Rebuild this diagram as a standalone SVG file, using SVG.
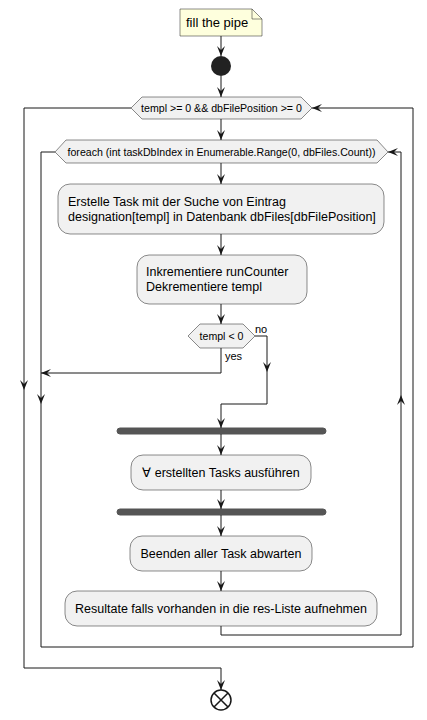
<svg xmlns="http://www.w3.org/2000/svg" width="427" height="720" viewBox="0 0 427 720">
<defs>
<marker id="ah" markerUnits="userSpaceOnUse" markerWidth="10" markerHeight="8" refX="10" refY="4" orient="auto" overflow="visible">
<path d="M0,0 L10,4 L0,8 L4,4 Z" fill="#181818"/>
</marker>
</defs>
<style>
.act{fill:#F1F1F1;stroke:#181818;stroke-width:0.5}
.t{font-family:"Liberation Sans",Arial,sans-serif;font-size:12.5px;fill:#000}
.s{font-family:"Liberation Sans",Arial,sans-serif;font-size:10.6px;fill:#000}
.l{font-family:"Liberation Sans",Arial,sans-serif;font-size:11px;fill:#000}
.c{fill:none;stroke:#181818;stroke-width:1}
.a{fill:none;stroke:#181818;stroke-width:1;marker-end:url(#ah)}
.bar{fill:#555555;stroke:#555555}
</style>
<rect width="427" height="720" fill="#FFFFFF"/>
<g id="note">
<path d="M180,9 L252,9 L262,19 L262,36 L180,36 Z" fill="#FEFFDD" stroke="#181818" stroke-width="0.5"/>
<path d="M252,9 L252,19 L262,19" fill="none" stroke="#181818" stroke-width="0.5"/>
<text class="t" x="186" y="27" style="font-size:13px">fill the pipe</text>
</g>
<g id="start"><circle cx="221" cy="66" r="10" fill="#222222"/></g>
<g id="while1">
<polygon class="act" points="131,108 142,97 301,97 312,108 301,119 142,119"/>
<text class="s" x="221.5" y="112" text-anchor="middle">templ &gt;= 0 &amp;&amp; dbFilePosition &gt;= 0</text>
</g>
<g id="while2">
<polygon class="act" points="55,152 66,140 377,140 388,152 377,163 66,163"/>
<text class="s" x="221.5" y="156" text-anchor="middle">foreach (int taskDbIndex in Enumerable.Range(0, dbFiles.Count))</text>
</g>
<g id="box1">
<rect class="act" x="58" y="184" width="326" height="50" rx="12"/>
<text class="t" x="68" y="206">Erstelle Task mit der Suche von Eintrag</text>
<text class="t" x="68" y="221">designation[templ] in Datenbank dbFiles[dbFilePosition]</text>
</g>
<g id="box2">
<rect class="act" x="137" y="255" width="170" height="49" rx="12"/>
<text class="t" x="146" y="276">Inkrementiere runCounter</text>
<text class="t" x="146" y="291">Dekrementiere templ</text>
</g>
<g id="decision">
<polygon class="act" points="188,336 200,324 243,324 255,336 243,348 200,348"/>
<text class="s" x="221.5" y="340" text-anchor="middle">templ &lt; 0</text>
<text class="l" x="255" y="333">no</text>
<text class="l" x="225" y="360">yes</text>
</g>
<g id="fork1"><rect class="bar" x="117" y="428" width="209" height="6" rx="3"/></g>
<g id="box3">
<rect class="act" x="131" y="455" width="180" height="35" rx="12"/>
<text class="t" x="221" y="477" text-anchor="middle">∀  erstellten Tasks ausführen</text>
</g>
<g id="fork2"><rect class="bar" x="117" y="509" width="209" height="6" rx="3"/></g>
<g id="box4">
<rect class="act" x="130" y="536" width="182" height="35" rx="12"/>
<text class="t" x="221" y="558" text-anchor="middle">Beenden aller Task abwarten</text>
</g>
<g id="box5">
<rect class="act" x="65" y="591" width="312" height="35" rx="12"/>
<text class="t" x="221" y="613" text-anchor="middle">Resultate falls vorhanden in die res-Liste aufnehmen</text>
</g>
<g id="end">
<circle cx="221" cy="700" r="10" fill="#FFFFFF" stroke="#181818" stroke-width="1.5"/>
<path d="M214,693 L228,707 M228,693 L214,707" stroke="#181818" stroke-width="1.5"/>
</g>
<g id="connectors">
<path class="a" d="M221,36 L221,56"/>
<path class="a" d="M221,76 L221,97"/>
<path class="a" d="M221,119 L221,140"/>
<path class="a" d="M221,163 L221,184"/>
<path class="a" d="M221,234 L221,255"/>
<path class="a" d="M221,304 L221,324"/>
<path class="a" d="M221,434 L221,455"/>
<path class="a" d="M221,490 L221,509"/>
<path class="a" d="M221,515 L221,536"/>
<path class="a" d="M221,571 L221,591"/>
<path class="a" d="M131,108 L24,108 L24,390"/>
<path class="c" d="M24,390 L24,668 L221,668"/>
<path class="a" d="M221,668 L221,690"/>
<path class="a" d="M55,152 L41,152 L41,404"/>
<path class="c" d="M41,404 L41,647 L413,647 L413,108"/>
<path class="a" d="M413,108 L312,108"/>
<path class="a" d="M221,348 L221,373 L41,373"/>
<path class="a" d="M255,336 L267,336 L267,372"/>
<path class="c" d="M267,372 L267,404 L221,404"/>
<path class="a" d="M221,404 L221,428"/>
<path class="a" d="M221,626 L221,635 L401,635 L401,395"/>
<path class="c" d="M401,395 L401,152"/>
<path class="a" d="M401,152 L388,152"/>
</g>
</svg>
